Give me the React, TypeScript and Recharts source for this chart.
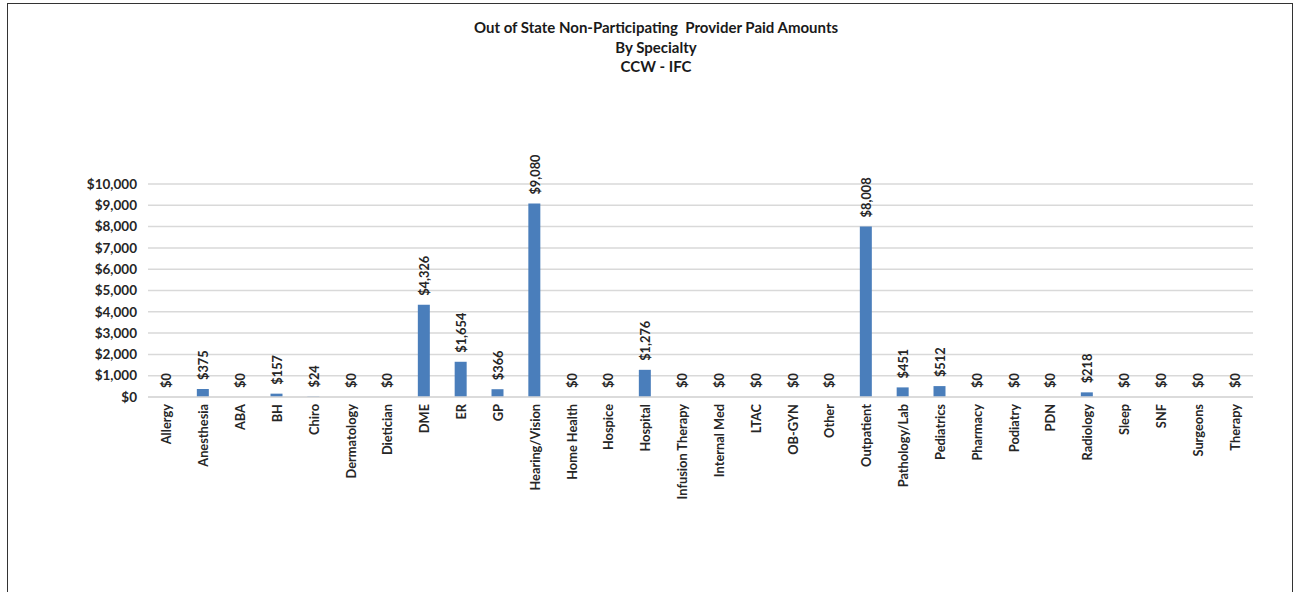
import {
  ComposedChart,
  Bar,
  Line,
  XAxis,
  YAxis,
  CartesianGrid,
  LabelList,
} from "recharts";

const specialties = [
  "Allergy", "Anesthesia", "ABA", "BH", "Chiro", "Dermatology", "Dietician",
  "DME", "ER", "GP", "Hearing/Vision", "Home Health", "Hospice", "Hospital",
  "Infusion Therapy", "Internal Med", "LTAC", "OB-GYN", "Other", "Outpatient",
  "Pathology/Lab", "Pediatrics", "Pharmacy", "Podiatry", "PDN", "Radiology",
  "Sleep", "SNF", "Surgeons", "Therapy",
];

const paidAmounts = [
  0, 375, 0, 157, 24, 0, 0, 4326, 1654, 366, 9080, 0, 0, 1276, 0, 0, 0, 0, 0,
  8008, 451, 512, 0, 0, 0, 218, 0, 0, 0, 0,
];

const yTicks = [0, 1000, 2000, 3000, 4000, 5000, 6000, 7000, 8000, 9000, 10000];

const titleLines = [
  "Out of State Non-Participating  Provider Paid Amounts",
  "By Specialty",
  "CCW - IFC",
];

const data = specialties.map((name, i) => ({ name, value: paidAmounts[i] }));

const FONT = "Lato, 'Open Sans', sans-serif";
const money = (v: number) => "$" + v.toLocaleString("en-US");

const CategoryTick = ({ x, y, payload }: any) => (
  <text
    x={x}
    y={y}
    transform={`rotate(-90, ${x}, ${y})`}
    textAnchor="end"
    dominantBaseline="central"
    fontFamily={FONT}
    fontWeight={700}
    fontSize={12.8}
    fill="#262626"
  >
    {payload.value}
  </text>
);

// labels hang off an invisible line so that $0 entries get one too
const ValueLabel = ({ x, y, value }: any) => {
  const ty = y - 9;
  return (
    <text
      x={x}
      y={ty}
      transform={`rotate(-90, ${x}, ${ty})`}
      textAnchor="start"
      dominantBaseline="central"
      fontFamily={FONT}
      fontWeight={700}
      fontSize={12.8}
      fill="#262626"
    >
      {money(value)}
    </text>
  );
};

export default function App() {
  return (
    <div
      style={{
        position: "absolute",
        left: 0,
        top: 0,
        width: 1305,
        height: 592,
        background: "#fff",
        overflow: "hidden",
      }}
    >
      <div
        style={{
          position: "absolute",
          left: 7,
          top: 3,
          width: 1284,
          height: 640,
          border: "1px solid #333",
        }}
      />
      <div
        style={{
          position: "absolute",
          left: 406,
          top: 18,
          width: 500,
          textAlign: "center",
          fontFamily: FONT,
          fontWeight: 700,
          fontSize: 15,
          lineHeight: "19.5px",
          color: "#1a1a1a",
        }}
      >
        {titleLines.map((t) => (
          <div key={t} style={{ whiteSpace: "pre" }}>{t}</div>
        ))}
      </div>
      <div style={{ position: "absolute", left: 0, top: 0 }}>
        <ComposedChart
          width={1305}
          height={592}
          data={data}
          margin={{ top: 184, right: 52, bottom: 115, left: 88 }}
          barCategoryGap={0}
        >
          <CartesianGrid
            vertical={false}
            stroke="#d9d9d9"
            strokeWidth={1.5}
          />
          <XAxis
            dataKey="name"
            interval={0}
            tick={<CategoryTick />}
            tickLine={false}
            axisLine={{ stroke: "#d9d9d9", strokeWidth: 1.5 }}
            tickSize={0}
            tickMargin={7}
            height={80}
          />
          <YAxis
            width={60}
            domain={[0, 10000]}
            ticks={yTicks}
            interval={0}
            tickFormatter={money}
            axisLine={false}
            tickLine={false}
            tickSize={0}
            tickMargin={11}
            tick={{
              fontFamily: FONT,
              fontWeight: 700,
              fontSize: 13.5,
              fill: "#262626",
            }}
          />
          <Bar
            dataKey="value"
            fill="#4a7ebb"
            barSize={12}
            isAnimationActive={false}
          />
          <Line
            dataKey="value"
            stroke="none"
            dot={false}
            activeDot={false}
            isAnimationActive={false}
          >
            <LabelList dataKey="value" content={<ValueLabel />} />
          </Line>
        </ComposedChart>
      </div>
    </div>
  );
}
